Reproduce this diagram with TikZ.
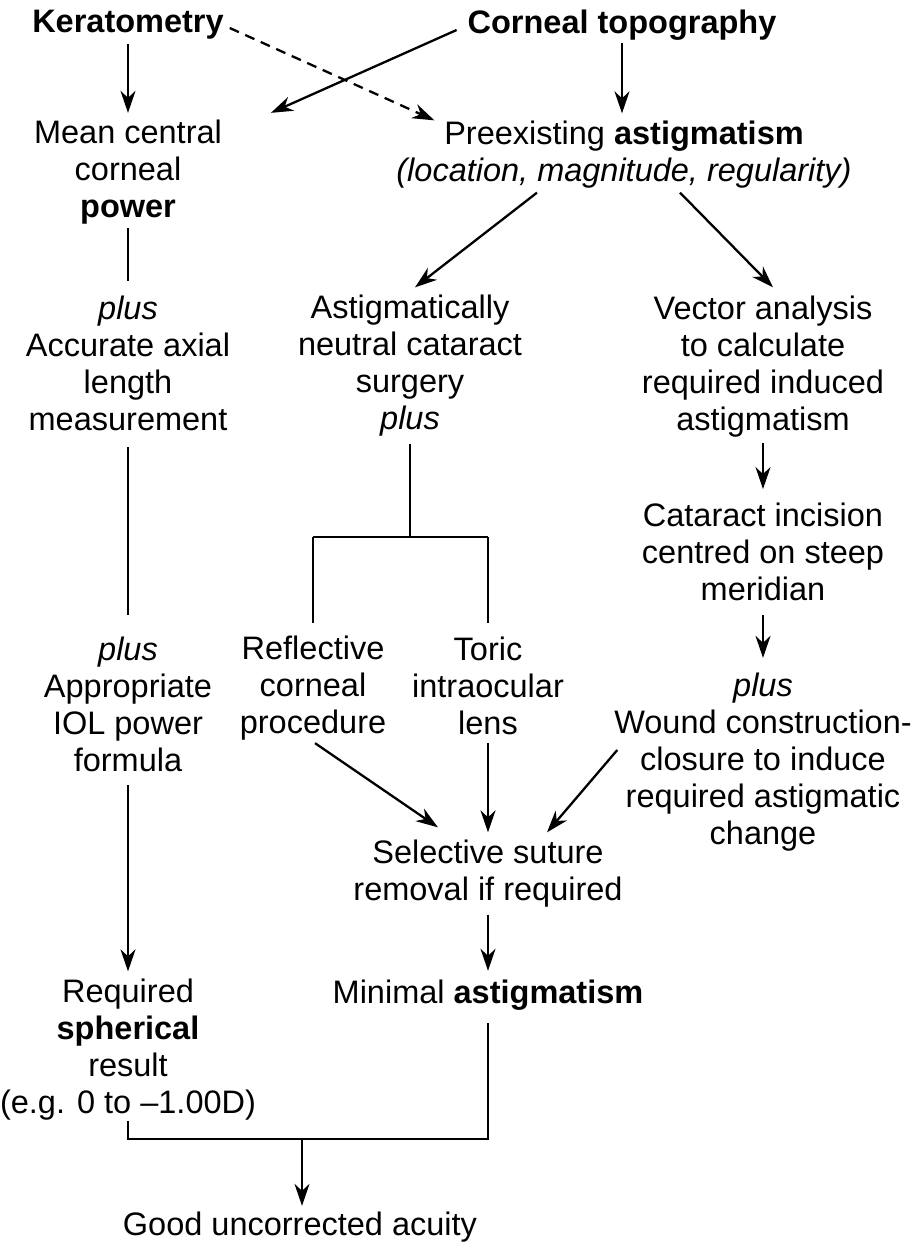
\documentclass[tikz,border=0pt]{standalone}
\usepackage{fontspec}
\setmainfont{Liberation Sans}
\usetikzlibrary{arrows.meta,calc}
\begin{document}
\begin{tikzpicture}[x=1pt,y=-1pt,
  txt/.style={align=center,inner sep=0pt,outer sep=0pt,font=\fontsize{32.5}{37}\selectfont},
  ln/.style={line width=2.3pt},
  arr/.style={ln,-{Stealth[length=22pt,width=15pt,inset=7pt]}},
  darr/.style={arr,dash pattern=on 10pt off 7pt}]
\useasboundingbox (0,0) rectangle (921,1246);
% nodes
\node[txt] (ker) at (128,25) {\bfseries Keratometry};
\node[txt] (topo) at (622,25) {\bfseries Corneal topography};
\node[txt] (mean) at (128,172) {Mean central\\corneal\\\textbf{power}};
\node[txt] (pre) at (624,155) {Preexisting \textbf{astigmatism}\\\textit{(location, magnitude, regularity)}};
\node[txt] (acc) at (128,363) {\textit{plus}\\Accurate axial\\length\\measurement};
\node[txt] (neu) at (410,366) {Astigmatically\\neutral cataract\\surgery\\\textit{plus}};
\node[txt] (vec) at (763,367) {Vector analysis\\to calculate\\required induced\\astigmatism};
\node[txt] (cat) at (763,552) {Cataract incision\\centred on steep\\meridian};
\node[txt] (wou) at (763,762) {\textit{plus}\\Wound construction-\\closure to induce\\required astigmatic\\change};
\node[txt] (iol) at (128,704) {\textit{plus}\\Appropriate\\IOL power\\formula};
\node[txt] (ref) at (313,688) {Reflective\\corneal\\procedure};
\node[txt] (tor) at (488,686) {Toric\\intraocular\\lens};
\node[txt] (sel) at (488,874) {Selective suture\\removal if required};
\node[txt] (min) at (488,995) {Minimal \textbf{astigmatism}};
\node[txt] (req) at (128,1050) {Required\\\textbf{spherical}\\result\\(e.g. 0 to –1.00D)};
\node[txt] (good) at (300,1227) {Good uncorrected acuity};
% helper coordinates
\coordinate (split) at (410,537);
\coordinate (join) at (302,1139);
% connectors
\draw[arr,shorten <=4pt,shorten >=7pt] (ker.south) -- (ker.south |- mean.north);
\draw[arr,shorten <=3pt,shorten >=8pt] (topo.south) -- (topo.south |- pre.north);
\draw[arr] ($(topo.west)+(-11,5)$) -- ($(mean.north east)+(49,-7)$);
\draw[darr] ($(ker.east)+(6,3)$) -- ($(pre.north west)+(38,-1)$);
\draw[arr] ($(pre.south)+(-87,4)$) -- ($(neu.north)+(5,-8)$);
\draw[arr] ($(pre.south)+(56,4)$) -- ($(vec.north)+(10,-9)$);
\draw[ln,shorten <=4pt,shorten >=15pt] (mean.south) -- (acc.north);
\draw[ln,shorten <=17pt,shorten >=22pt] (acc.south) -- (iol.north);
\draw[arr,shorten <=14pt,shorten >=8pt] (iol.south) -- (req.north);
\draw[arr,shorten <=5pt,shorten >=14pt] (vec.south) -- (cat.north);
\draw[arr,shorten <=14pt,shorten >=15pt] (cat.south) -- (wou.north);
\draw[ln,shorten <=7pt] (neu.south) -- (split);
\draw[ln] (split -| ref) -- (split -| tor);
\draw[ln,shorten >=13pt] (split -| ref) -- (ref.north);
\draw[ln,shorten >=14pt] (split -| tor) -- (tor.north);
\draw[arr] ($(ref.south)+(2,3)$) -- ($(sel.north)+(-50,-13)$);
\draw[arr,shorten <=8pt,shorten >=8pt] (tor.south) -- (tor.south |- sel.north);
\draw[arr] ($(wou.west)+(3,-12)$) -- ($(sel.north)+(59,-8)$);
\draw[arr,shorten <=7pt,shorten >=9pt] (sel.south) -- (min.north);
\draw[ln,shorten >=13pt] (req.south) -- (req.south |- join) -- (min.south |- join) -- (min.south);
\draw[arr,shorten >=6pt] (join) -- (join |- good.north);
\end{tikzpicture}
\end{document}
